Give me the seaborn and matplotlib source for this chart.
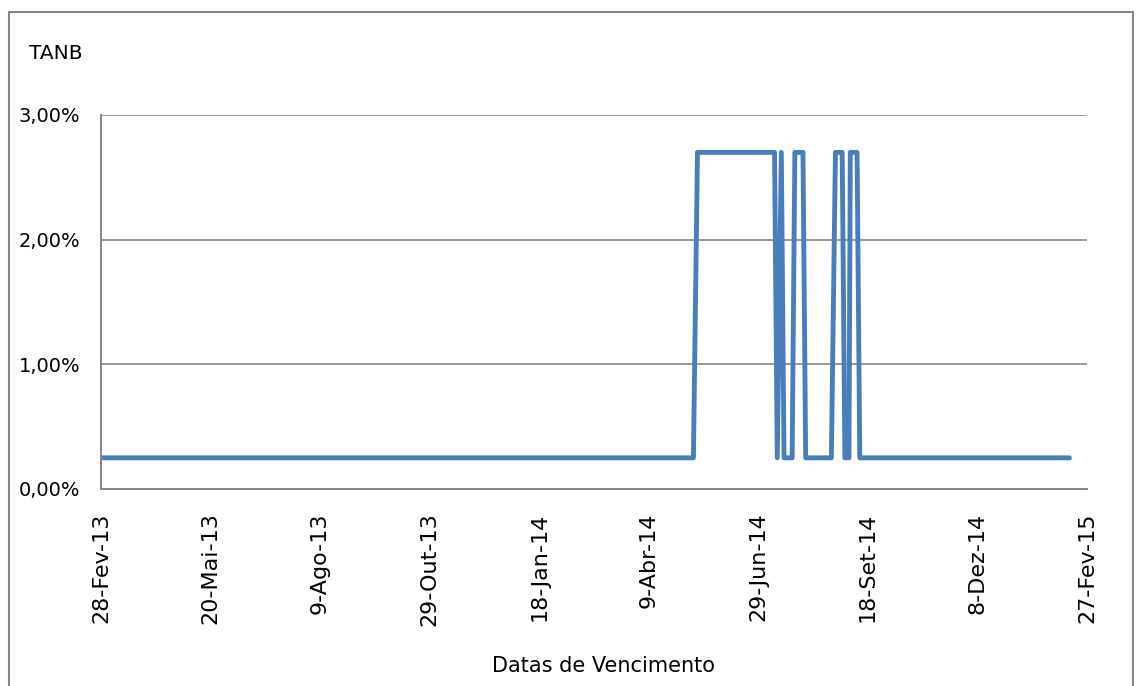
import pandas as pd
import numpy as np
import matplotlib
matplotlib.use("Agg")
import matplotlib.pyplot as plt
from matplotlib.patches import Rectangle
from matplotlib.ticker import FuncFormatter
import seaborn as sns

# ----------------------------
# Data
# ----------------------------
datas = ["2013-02-28", "2014-05-12", "2014-05-15", "2014-07-11", "2014-07-13",
         "2014-07-16", "2014-07-18", "2014-07-24", "2014-07-26", "2014-08-01",
         "2014-08-03", "2014-08-22", "2014-08-25", "2014-08-30", "2014-09-01",
         "2014-09-04", "2014-09-05", "2014-09-10", "2014-09-12", "2015-02-14"]
tanb = [0.25, 0.25, 2.70, 2.70, 0.25,
        2.70, 0.25, 0.25, 2.70, 2.70,
        0.25, 0.25, 2.70, 2.70, 0.25,
        0.25, 2.70, 2.70, 0.25, 0.25]

tick_dates = ["2013-02-28", "2013-05-20", "2013-08-09", "2013-10-29", "2014-01-18",
              "2014-04-09", "2014-06-29", "2014-09-18", "2014-12-08", "2015-02-27"]
tick_labels = ["28-Fev-13", "20-Mai-13", "9-Ago-13", "29-Out-13", "18-Jan-14",
               "9-Abr-14", "29-Jun-14", "18-Set-14", "8-Dez-14", "27-Fev-15"]
y_ticks = [0, 1, 2, 3]

df = pd.DataFrame({"Data": pd.to_datetime(datas), "TANB": tanb})

# ----------------------------
# Style
# ----------------------------
sns.set_style("white")
plt.rcParams['font.family'] = ['DejaVu Sans']
plt.rcParams['text.color'] = 'black'
plt.rcParams['xtick.color'] = 'black'
plt.rcParams['ytick.color'] = 'black'
grey = "#868686"

fig = plt.figure(figsize=(11.41, 6.86), dpi=100)
ax = fig.add_axes([101/1141, 1 - 489/686, (1087-101)/1141, (489-115)/686])

sns.lineplot(data=df, x="Data", y="TANB", ax=ax, estimator=None, sort=False,
             color="#4A7EBB", linewidth=3.5, solid_capstyle="round",
             solid_joinstyle="round")

ax.set_ylim(0, 3)
ax.set_yticks(y_ticks)
ax.yaxis.set_major_formatter(FuncFormatter(lambda v, p: f"{v:.2f}%".replace(".", ",")))
ax.set_xlim(pd.Timestamp(tick_dates[0]), pd.Timestamp(tick_dates[-1]))
ax.set_xticks(pd.to_datetime(tick_dates))
ax.set_xticklabels(tick_labels, rotation=90, fontsize=16)
ax.tick_params(axis="y", labelsize=14, length=6, color=grey, labelcolor="black",
               width=1.3, direction="out", pad=9)
ax.tick_params(axis="x", length=5, color=grey, labelcolor="black",
               width=1.3, direction="out", pad=12)
ax.grid(axis="y", color=grey, linewidth=1.2)
ax.grid(axis="x", visible=False)
for side in ["top", "right"]:
    ax.spines[side].set_visible(False)
for side in ["left", "bottom"]:
    ax.spines[side].set_color(grey)
    ax.spines[side].set_linewidth(1.4)

ax.set_xlabel("")
ax.set_ylabel("")
fig.text(603/1141, 1 - 672/686, "Datas de Vencimento", ha="center", va="baseline",
         fontsize=15, color="black")
fig.text(29/1141, 1 - 59/686, "TANB", ha="left", va="baseline", fontsize=14.5,
         color="black")

# outer chart border
fig.patches.append(Rectangle((9/1141, -0.05), (1133-9)/1141, 1.05 - 12/686,
                             transform=fig.transFigure, fill=False,
                             edgecolor=grey, linewidth=1.5))

fig.savefig("out.png", dpi=100)
